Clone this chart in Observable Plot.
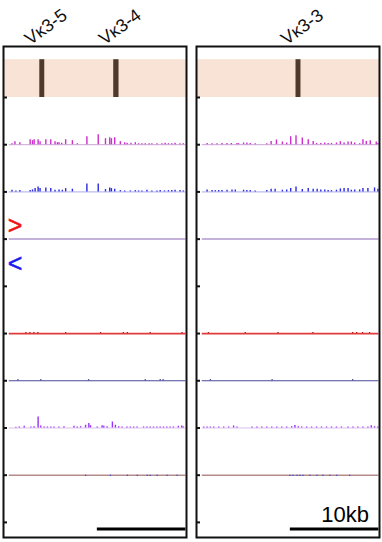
<!DOCTYPE html>
<html><head><meta charset="utf-8">
<script src="https://cdn.jsdelivr.net/npm/d3@7"></script>
<script src="https://cdn.jsdelivr.net/npm/@observablehq/plot@0.6"></script>
<style>body{margin:0;background:#fff}#chart svg{display:block}</style>
</head><body><div id="chart"></div>
<script>
// ---- categories ----
const panels = ["left", "right"];
const trackBaselines = [0, 1, 2, 3, 4, 5, 6, 7, 8, 9]; // genes, magenta, blue, strand, empty, red, navy, purple, mixed, bottom
const xDomain = [0, 20.67]; // kb within each window

// ---- genes ----
const genePanel = ["left", "left", "right"];
const geneNames = ["Vκ3-5", "Vκ3-4", "Vκ3-3"];
const geneStart = [4.1, 12.45, 11.24];
const geneEnd = [4.66, 13.05, 11.8];

// ---- magenta signal (track 1) ----
const magLeftPos = [0.96,1.29,1.85,3.01,3.28,3.46,3.91,4.13,4.78,5.34,5.82,6.09,6.27,6.57,7.02,7.78,8.34,9.42,10.7,11.52,12.0,12.19,12.56,13.2,13.69,13.96,14.4,14.89,15.26,15.64,16.01,16.46,16.76,17.33,17.89,18.26,18.63,19.01,19.38,19.94,20.31];
const magLeftVal = [1,3,2,5,4,5,5,3,5,5,3,2,2,1.5,5,4,1,8,10,6,7,6,7,3,2,1.5,1.5,2,1,1,1,1,1,1,1,1.5,1,1,1.5,1,1];
const magRightPos = [1.2,1.76,2.32,2.88,3.45,3.93,4.57,4.76,5.32,5.69,6.07,6.63,7.94,8.43,9.03,9.7,10.19,10.64,11.24,11.95,12.62,13.18,13.56,14.04,14.49,14.87,15.24,15.81,16.25,16.67,17.12,17.49,17.87,18.43,18.8,19.18,19.63,20.3,20.49];
const magRightVal = [1.3,1,1,1.3,1.3,1.3,1.3,1,1.7,1.7,1.3,1,1,3.3,4.7,2.7,1.7,8,9,6.7,5,3.3,1.3,1.3,1.7,1.3,1.3,1.7,3,1.7,2.7,2.7,1.7,1,5,3.3,4,2.7,1.3];

// ---- blue signal (track 2) ----
const blueLeftPos = [0.96,1.4,1.85,3.01,3.28,3.57,3.91,4.13,4.78,5.34,5.82,6.27,6.65,7.02,7.78,9.42,10.7,11.52,12.0,12.19,12.56,13.2,13.69,14.33,14.89,15.26,15.64,16.2,16.76,17.33,17.7,18.18,18.63,19.01,19.38,19.94,20.31];
const blueLeftVal = [1.7,1,1.3,1.3,2,3.3,5,3.3,4,3.3,1.7,2,1.7,3.3,2.7,8,8,2.3,4,3.3,2.7,1.3,1,1,1.3,1,1,1.7,1,1,1.3,1,1.3,1.3,1.7,1.3,1];
const blueRightPos = [1.2,1.76,2.13,2.51,2.88,3.45,4.01,4.38,5.32,5.69,6.07,6.63,7.94,8.43,8.88,9.7,10.19,10.64,11.24,11.95,12.62,13.18,13.63,14.04,14.49,14.87,15.24,15.81,16.25,16.67,17.12,17.49,17.87,18.43,18.8,19.36,20.11,20.49];
const blueRightVal = [2,1.3,1.3,1.3,1.3,1.7,2,2,1.7,1.3,1.3,1,1.3,2.7,2.7,1.7,2,3.3,5,2.3,3.3,2.7,2.7,2,2,1.3,1.3,1.7,3,3.3,3.3,1.7,2,2,3.3,3.3,4,2.7];

// ---- purple signal (track 7) ----
const purLeftPos = [1.4,1.78,2.34,3.09,3.46,3.91,4.21,4.59,4.96,5.34,5.71,6.27,6.83,7.96,8.33,8.71,9.27,9.64,9.83,10.58,11.14,11.33,11.7,12.3,12.64,13.01,13.39,13.95,14.33,14.7,15.08,15.82,16.2,16.57,16.94,17.33,17.7,18.07,18.45,18.82,19.19,19.75,20.13,20.31];
const purLeftVal = [0.7,1,1.7,1,1.3,11,2,1,1,1,1,1,1.3,1.7,1,1.3,2.7,4.5,2.3,1,2.3,1.7,1.3,6,2.7,1.3,1,1,1,1,1,1,1,1,1,1,1,1,1,1,1,1.7,2,1];
const purRightPos = [0.82,1.2,1.57,1.95,2.51,3.07,3.63,4.19,4.57,6.26,6.82,7.38,7.94,8.5,9.07,9.63,10.19,10.75,11.12,11.5,11.88,12.44,13.0,13.56,14.12,14.69,15.25,15.81,16.37,17.12,17.67,18.24,18.8,19.36,19.74,20.11,20.48];
const purRightVal = [1,1,1,1,1,1,1,2,1,1,1,1,1,1,1,1,1,1.3,2.5,1.3,1,1,1,1,1,1,1,1,1,1,1,1,1,1,2.3,1.3,1];

// ---- low-level noise tracks (5 red, 6 navy, 8 mixed) ----
const redLeftPos = [2.53,2.98,3.43,3.88,7.02,10.96,13.54,13.99,16.57,20.17];
const redRightPos = [1.35,5.51,9.21,13.15,17.64,18.09,18.76,19.55];
const navyLeftPos = [1.63,4.21,9.61,16.01,17.7,18.03];
const navyRightPos = [1.57,8.54,17.64];
const mixLeftPos = [9.27,12.08,13.99,15.11,16.24,16.57,17.36,18.48,19.61];
const mixRightPos = [10.56,10.9,11.35,11.69,12.02,12.81,13.6,14.27,15.06,15.84,17.3];

// ---- strand markers & scale bar ----
const strandSymbols = [">", "<"];
const strandColors = ["#ee1111", "#1a1aee"];
const scaleStart = 10.6, scaleLength = 10, scaleLabel = "10kb";

// ---- build tables ----
const signalScale = 1 / 47.22; // track units per signal unit
const dataRange = [0.65, 20.6];
const rows = (panel, track, pos, val, color) => pos.map((x, i) => ({panel, track, x, v: val ? val[i] : 1, color}));
const genes = geneNames.map((name, i) => ({panel: genePanel[i], name, start: geneStart[i], end: geneEnd[i]}));

const bars = [
  ...rows("left", 1, magLeftPos, magLeftVal, "#cc2dcc"),
  ...rows("right", 1, magRightPos, magRightVal, "#cc2dcc"),
  ...rows("left", 2, blueLeftPos, blueLeftVal, "#2a2ae0"),
  ...rows("right", 2, blueRightPos, blueRightVal, "#2a2ae0"),
  ...rows("left", 7, purLeftPos, purLeftVal, "#9b30f5"),
  ...rows("right", 7, purRightPos, purRightVal, "#9b30f5")
];
const noiseUp = [
  ...rows("left", 5, redLeftPos, null, "#b01515"),
  ...rows("right", 5, redRightPos, null, "#b01515"),
  ...rows("left", 6, navyLeftPos, null, "#20207a"),
  ...rows("right", 6, navyRightPos, null, "#20207a")
];
const noiseDown = [
  ...rows("left", 8, mixLeftPos, null, "#3b4fd0"),
  ...rows("right", 8, mixRightPos, null, "#3b4fd0")
];
const baselineSpecs = [
  {track: 1, color: "#c9a6d6", w: 1},
  {track: 2, color: "#a9a9ee", w: 1},
  {track: 3, color: "#c4b2da", w: 2},
  {track: 5, color: "#e03a3a", w: 1.8},
  {track: 6, color: "#4a4a9a", w: 1},
  {track: 7, color: "#d7c0ec", w: 1},
  {track: 8, color: "#b48c8c", w: 1.4}
];
const baselines = panels.flatMap(panel => baselineSpecs.map(s => ({panel, ...s})));
const strands = strandSymbols.map((s, i) => ({panel: "left", s, color: strandColors[i], track: 3, side: i}));
const scaleBars = panels.map(panel => ({panel, x1: scaleStart, x2: scaleStart + scaleLength}));

const chart = Plot.plot({
  width: 382,
  height: 542,
  marginTop: 46,
  marginBottom: 5,
  marginLeft: 3,
  marginRight: 2,
  style: {fontFamily: "'Liberation Sans', Arial, sans-serif", background: "white"},
  fx: {domain: panels, paddingInner: 0.05, paddingOuter: 0, axis: null},
  x: {domain: xDomain, axis: null},
  y: {domain: [-1.08, 9.32], reverse: true, axis: null},
  marks: [
    // gene track band and gene bars
    Plot.rect(panels, {fx: d => d, x1: () => xDomain[0], x2: () => xDomain[1], y1: 0, y2: -0.8, fill: "#f9e3d6"}),
    Plot.rect(genes, {fx: "panel", x1: "start", x2: "end", y1: 0, y2: -0.8, fill: "#4d3a2b"}),
    // track baselines
    Plot.ruleY(baselines, {fx: "panel", y: "track", x1: () => dataRange[0], x2: () => dataRange[1], stroke: "color", strokeWidth: "w"}),
    // signal bars
    Plot.ruleX(bars, {fx: "panel", x: "x", y1: "track", y2: d => d.track - d.v * signalScale, stroke: "color", strokeWidth: 1.4}),
    Plot.ruleX(noiseUp, {fx: "panel", x: "x", y1: "track", y2: d => d.track - d.v * signalScale, stroke: "color", strokeWidth: 1.3}),
    Plot.ruleX(noiseDown, {fx: "panel", x: "x", y1: "track", y2: d => d.track + 1.3 * d.v * signalScale, stroke: "color", strokeWidth: 1.3}),
    // strand markers
    Plot.text(strands.filter(d => d.side === 0), {fx: "panel", x: () => 1.3, y: "track", text: "s", fill: "color", stroke: "color", strokeWidth: 0.5, fontSize: 25, dy: -13}),
    Plot.text(strands.filter(d => d.side === 1), {fx: "panel", x: () => 1.3, y: "track", text: "s", fill: "color", stroke: "color", strokeWidth: 0.5, fontSize: 25, dy: 25}),
    // frames and ticks
    Plot.frame({stroke: "#111", strokeWidth: 2}),
    Plot.axisY({ticks: trackBaselines, tickSize: 4, dx: 4, tickFormat: () => "", strokeWidth: 2, stroke: "#111", facetAnchor: null, anchor: "left", label: null}),
    // gene labels
    Plot.text(genes, {fx: "panel", x: d => (d.start + d.end) / 2, frameAnchor: "top", text: "name", rotate: -36, textAnchor: "start", lineAnchor: "bottom", dx: -12, dy: -1, fontSize: 18, fill: "#111"}),
    // scale bar
    Plot.ruleY(scaleBars, {fx: "panel", y: () => 9, x1: "x1", x2: "x2", stroke: "#000", strokeWidth: 3, dy: 6.5}),
    Plot.text([{panel: "right", x: scaleStart + scaleLength, label: scaleLabel}], {fx: "panel", x: "x", y: () => 9, text: "label", textAnchor: "end", lineAnchor: "bottom", dx: -10, dy: 0, fontSize: 22, fill: "#000"})
  ]
});
document.getElementById("chart").appendChild(chart);
</script>
</body></html>
